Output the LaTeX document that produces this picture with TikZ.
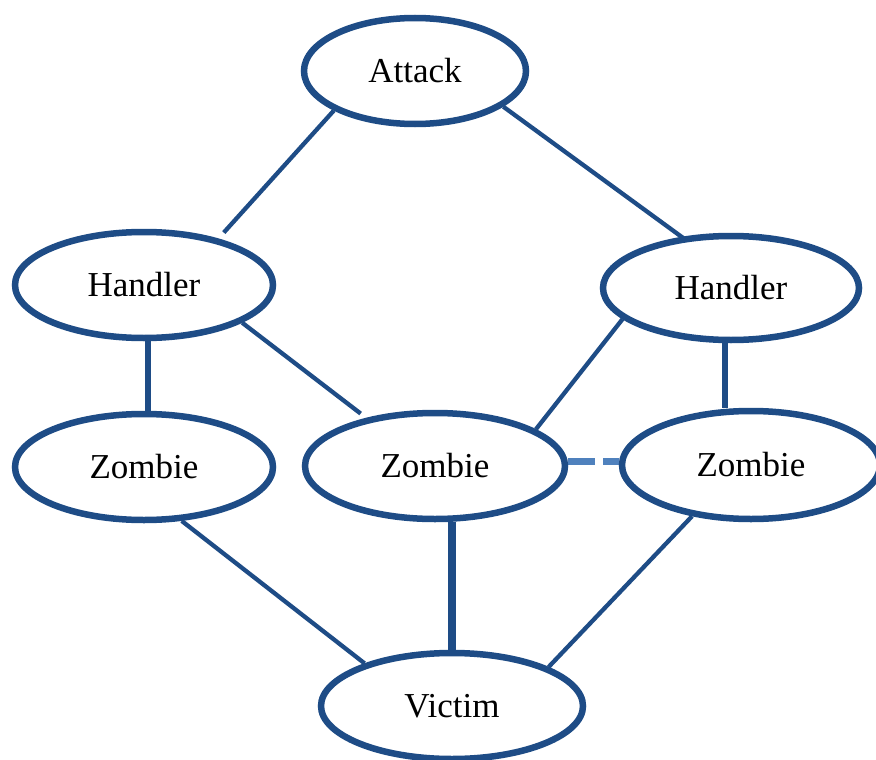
\documentclass[tikz,border=0pt]{standalone}
\usepackage{fontspec}
\setmainfont{Liberation Serif}
\usetikzlibrary{shapes.geometric,backgrounds}
\definecolor{navy}{RGB}{30,76,134}
\definecolor{lightlink}{HTML}{4F81BD}
\begin{document}
\begin{tikzpicture}[x=1pt,y=-1pt,
  blob/.style={ellipse,draw=navy,line width=6.5pt,fill=white,inner sep=0pt,
    minimum width=258pt,minimum height=106pt,
    font=\fontsize{35}{42}\selectfont,text=black},
  thinlink/.style={draw=navy,line width=4.3pt},
  thicklink/.style={draw=navy,line width=6.5pt},
  dashlink/.style={draw=lightlink,line width=7pt,dash pattern=on 27pt off 8pt}]
\useasboundingbox (0,0) rectangle (876,760);

% nodes
\node[blob,minimum width=222pt,minimum height=106pt] (att) at (415,71) {Attack};
\node[blob] (hl) at (144,285) {Handler};
\node[blob,minimum width=256pt,minimum height=104pt] (hr) at (731,288) {Handler};
\node[blob] (zl) at (144,467) {Zombie};
\node[blob,minimum width=260pt] (zm) at (435,466) {Zombie};
\node[blob,minimum width=258pt,minimum height=108pt] (zr) at (751,465) {Zombie};
\node[blob,minimum width=262pt] (vic) at (452,706) {Victim};

% connectors, kept behind the ellipses
\begin{pgfonlayer}{background}
  \draw[thinlink,shorten >=8pt] (att.206) -- (hl.32);
  \draw[thinlink,shorten >=-6pt] (att.338) -- (hr.134);
  \draw[thicklink,line width=6pt] ([xshift=4pt]hl.south) -- ([xshift=4pt]zl.north);
  \draw[thinlink,shorten >=7pt] (hl.339) -- (zm.145);
  \draw[thinlink] (hr.196) -- (zm.20);
  \draw[thicklink,line width=6pt] ([xshift=-6pt]hr.south) -- ([xshift=-6pt]hr.south |- zr.north);
  \draw[dashlink] ([yshift=5pt]zm.east) -- ([yshift=5pt]zm.east -| zr.west);
  \draw[thinlink] (zl.305) -- (vic.154);
  \draw[thicklink,line width=7.5pt] (vic.north) -- (vic.north |- zm.south);
  \draw[thinlink] (zr.221) -- (vic.22);
\end{pgfonlayer}
\end{tikzpicture}
\end{document}
